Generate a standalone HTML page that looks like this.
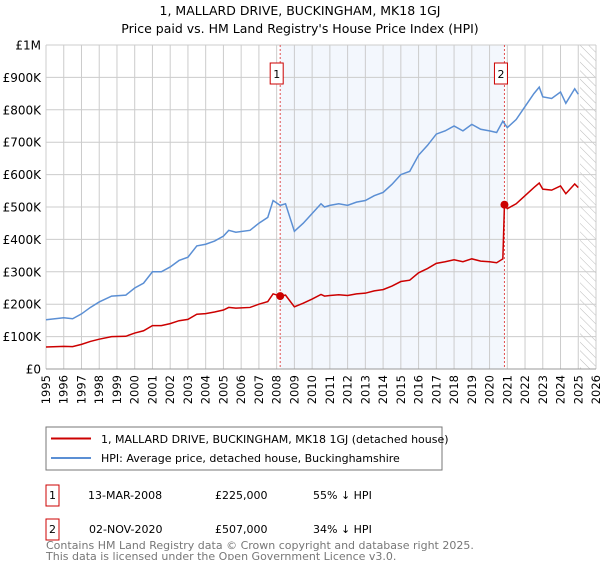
<!DOCTYPE html>
<html><head><meta charset="utf-8"><style>
body{margin:0;background:#fff;font-family:"DejaVu Sans","Liberation Sans",sans-serif;}
svg text{font-family:"DejaVu Sans","Liberation Sans",sans-serif;}
</style></head><body>
<svg id="c" width="600" height="560" xmlns="http://www.w3.org/2000/svg">
<defs><pattern id="hatch" width="6" height="6" patternUnits="userSpaceOnUse" patternTransform="rotate(-45)"><line x1="0" y1="0" x2="0" y2="6" stroke="#bbb" stroke-width="1"/></pattern></defs>
<text x="300" y="15" text-anchor="middle" font-size="12.5">1, MALLARD DRIVE, BUCKINGHAM, MK18 1GJ</text>
<text x="300" y="33" text-anchor="middle" font-size="12.5">Price paid vs. HM Land Registry's House Price Index (HPI)</text>
<g id="plot"></g>
<g>
<rect x="46" y="427" width="396" height="43" fill="#fff" stroke="#777"/>
<line x1="51" y1="438.5" x2="91" y2="438.5" stroke="#cc0000" stroke-width="2"/>
<text x="101" y="443" font-size="11">1, MALLARD DRIVE, BUCKINGHAM, MK18 1GJ (detached house)</text>
<line x1="51" y1="458" x2="91" y2="458" stroke="#5b8fd4" stroke-width="2"/>
<text x="101" y="462" font-size="11">HPI: Average price, detached house, Buckinghamshire</text>
</g>
<g font-size="11">
<rect x="46" y="485" width="13" height="21" fill="#fff" stroke="#cc0000"/><text x="52.5" y="499" text-anchor="middle">1</text>
<text x="88" y="499">13-MAR-2008</text><text x="215" y="499">£225,000</text><text x="313" y="499">55% ↓ HPI</text>
<rect x="46" y="519" width="13" height="21" fill="#fff" stroke="#cc0000"/><text x="52.5" y="533" text-anchor="middle">2</text>
<text x="89" y="533">02-NOV-2020</text><text x="215" y="533">£507,000</text><text x="313" y="533">34% ↓ HPI</text>
</g>
<text x="46" y="549" font-size="11" fill="#777">Contains HM Land Registry data © Crown copyright and database right 2025.</text>
<text x="46" y="560" font-size="11" fill="#777">This data is licensed under the Open Government Licence v3.0.</text>
</svg>
<script>
const hpiYears=[1995,1996,1996.5,1997,1997.5,1998,1998.7,1999.5,2000,2000.5,2001,2001.5,2002,2002.5,2003,2003.5,2004,2004.5,2005,2005.3,2005.7,2006.5,2007,2007.5,2007.8,2008.2,2008.5,2009,2009.5,2010,2010.5,2010.7,2011,2011.5,2012,2012.5,2013,2013.5,2014,2014.5,2015,2015.5,2016,2016.5,2017,2017.5,2018,2018.5,2019,2019.5,2020,2020.4,2020.75,2021,2021.5,2022,2022.5,2022.8,2023,2023.5,2024,2024.3,2024.8,2025];
const hpiValues=[152,158,155,170,190,207,225,228,250,265,300,300,315,335,345,380,385,395,410,428,422,428,450,468,520,505,510,425,450,480,510,500,505,510,505,515,520,535,545,570,600,610,660,690,725,735,750,735,755,740,735,730,765,745,770,810,850,870,840,835,855,820,865,848];
const priceYears=[1995,1996,1996.5,1997,1997.5,1998,1998.7,1999.5,2000,2000.5,2001,2001.5,2002,2002.5,2003,2003.5,2004,2004.5,2005,2005.3,2005.7,2006.5,2007,2007.5,2007.8,2008.2,2008.5,2009,2009.5,2010,2010.5,2010.7,2011,2011.5,2012,2012.5,2013,2013.5,2014,2014.5,2015,2015.5,2016,2016.5,2017,2017.5,2018,2018.5,2019,2019.5,2020,2020.4,2020.75,2020.84,2021,2021.5,2022,2022.5,2022.8,2023,2023.5,2024,2024.3,2024.8,2025];
const priceValues=[68,70,69,76,85,92,100,101,111,118,134,134,140,149,153,169,171,176,182,190,188,190,200,208,232,225,228,192,203,216,230,225,227,229,227,232,234,241,245,256,270,274,297,310,326,331,337,331,340,333,331,328,340,507,495,510,535,560,574,555,552,565,541,571,560];
const saleYears=[2008.2,2020.84];
const saleValues=[225,507];
const saleLabels=["1","2"];
const yTicks=[0,100,200,300,400,500,600,700,800,900,1000];
const yTickLabels=["£0","£100K","£200K","£300K","£400K","£500K","£600K","£700K","£800K","£900K","£1M"];
const xTicks=[];for(let y=1995;y<=2026;y++)xTicks.push(y);

const X0=46,X1=596,Y0=369,Y1=45;
const xs=t=>X0+(t-1995)/(2026-1995)*(X1-X0);
const ys=v=>Y0-v/1000*(Y0-Y1);
const NS="http://www.w3.org/2000/svg";
const g=document.getElementById('plot');
function mk(tag,attrs,parent){const e=document.createElementNS(NS,tag);for(const k in attrs)e.setAttribute(k,attrs[k]);(parent||g).appendChild(e);return e;}

const shade=mk('rect',{x:xs(saleYears[0]),y:Y1,width:xs(saleYears[1])-xs(saleYears[0]),height:Y0-Y1,fill:'#eef3fc',opacity:0.7});


const hatch=mk('rect',{x:xs(2025.1),y:Y1,width:X1-xs(2025.1),height:Y0-Y1,fill:'url(#hatch)'});



xTicks.forEach(t=>{
  const l=mk('line',{x1:xs(t),x2:xs(t),y1:Y1,y2:Y0,stroke:'#cccccc','stroke-width':1});
  
  
  const tx=mk('text',{x:0,y:0,'font-size':11.5,'text-anchor':'end',transform:`translate(${xs(t)+4},${Y0+6}) rotate(-90)`});
  tx.textContent=t;
  
  
});
yTicks.forEach((v,i)=>{
  const l=mk('line',{x1:X0,x2:X1,y1:ys(v),y2:ys(v),stroke:'#cccccc','stroke-width':1});
  
  
  const tx=mk('text',{x:X0-5,y:ys(v)+4.5,'font-size':12,'text-anchor':'end'});
  tx.textContent=yTickLabels[i];
  
  
});
const ax=mk('line',{x1:X0,x2:X1,y1:Y0,y2:Y0,stroke:'#999','stroke-width':1});



saleYears.forEach((t,i)=>{
  const l=mk('line',{x1:xs(t),x2:xs(t),y1:Y1,y2:Y0,stroke:'#e05050','stroke-width':1,'stroke-dasharray':'2,2'});
  
  
  const b=mk('rect',{x:xs(t)-10,y:63,width:13,height:21,fill:'#fff',stroke:'#cc0000'});
  
  
  const tx=mk('text',{x:xs(t)-3.5,y:78,'font-size':11,'text-anchor':'middle'});
  tx.textContent=saleLabels[i];
  
  
});

const hp=mk('polyline',{points:hpiYears.map((t,i)=>xs(t)+','+ys(hpiValues[i])).join(' '),fill:'none',stroke:'#5b8fd4','stroke-width':1.5});


const pp=mk('polyline',{points:priceYears.map((t,i)=>xs(t)+','+ys(priceValues[i])).join(' '),fill:'none',stroke:'#cc0000','stroke-width':1.5});


saleYears.forEach((t,i)=>{
  const c=mk('circle',{cx:xs(t),cy:ys(saleValues[i]),r:4,fill:'#cc0000'});
  
  
});
</script>
</body></html>
